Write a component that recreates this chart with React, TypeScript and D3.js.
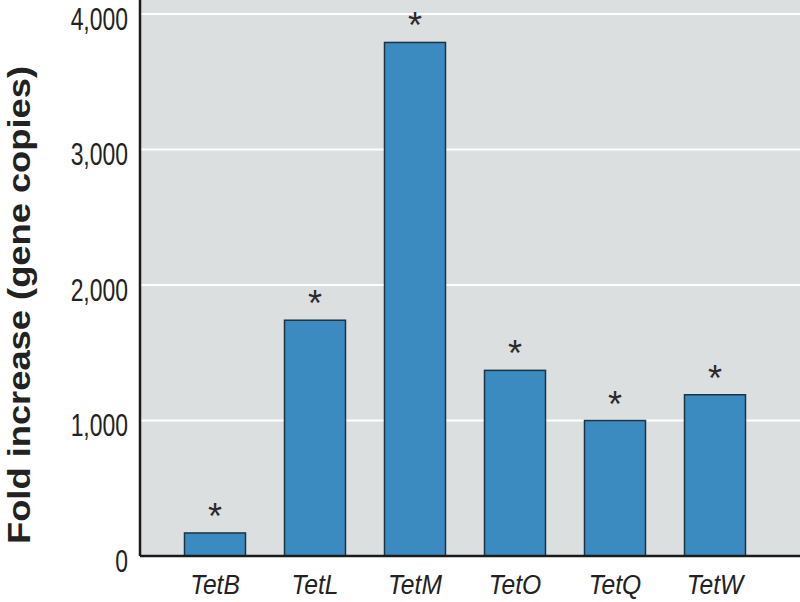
import React, { useEffect, useRef } from 'react';
import * as d3 from 'd3';

const genes = ['TetB', 'TetL', 'TetM', 'TetO', 'TetQ', 'TetW'];
const foldIncrease = [170, 1740, 3790, 1370, 1000, 1190];
const significant = [true, true, true, true, true, true];
const yTicks = [0, 1000, 2000, 3000, 4000];

const W = 800;
const H = 602;

export default function App() {
  const ref = useRef<SVGSVGElement>(null);

  useEffect(() => {
    const svg = d3.select(ref.current);
    svg.selectAll('*').remove();

    const left = 140, bottom = 556, right = 800;
    const font = '"Liberation Sans", Arial, sans-serif';

    const x = d3.scaleBand<string>()
      .domain(genes)
      .range([165, 765])
      .paddingInner(0.39)
      .paddingOuter(0.195);

    const y = d3.scaleLinear()
      .domain([0, 4000])
      .range([bottom, 14]);

    // plot background
    svg.append('rect')
      .attr('x', left).attr('y', 0)
      .attr('width', right - left).attr('height', bottom)
      .attr('fill', '#dcdfe0');

    // gridlines
    svg.append('g')
      .selectAll('line')
      .data(yTicks.filter(d => d > 0))
      .join('line')
      .attr('x1', left).attr('x2', right)
      .attr('y1', d => y(d)).attr('y2', d => y(d))
      .attr('stroke', '#fff')
      .attr('stroke-width', 2);

    // bars
    svg.append('g')
      .selectAll('rect')
      .data(genes)
      .join('rect')
      .attr('x', d => x(d)!)
      .attr('y', (d, i) => y(foldIncrease[i]))
      .attr('width', x.bandwidth())
      .attr('height', (d, i) => bottom - y(foldIncrease[i]))
      .attr('fill', '#3b8bc0')
      .attr('stroke', '#1c3344')
      .attr('stroke-width', 1.5);

    // asterisks
    svg.append('g')
      .selectAll('text')
      .data(genes.filter((d, i) => significant[i]))
      .join('text')
      .attr('x', d => x(d)! + x.bandwidth() / 2)
      .attr('y', d => y(foldIncrease[genes.indexOf(d)]) - 4)
      .attr('text-anchor', 'middle')
      .attr('font-family', font)
      .attr('font-size', 36)
      .attr('fill', '#2a2a2a')
      .text('*');

    // axes lines
    svg.append('line')
      .attr('x1', left).attr('x2', left)
      .attr('y1', 0).attr('y2', bottom)
      .attr('stroke', '#1a1a1a').attr('stroke-width', 2.5);
    svg.append('line')
      .attr('x1', left).attr('x2', right)
      .attr('y1', bottom).attr('y2', bottom)
      .attr('stroke', '#1a1a1a').attr('stroke-width', 2.5);

    // y tick labels (condensed)
    svg.append('g')
      .selectAll('text')
      .data(yTicks)
      .join('text')
      .attr('transform', d => `translate(128,${y(d) + 15.5}) scale(0.74,1)`)
      .attr('text-anchor', 'end')
      .attr('font-family', font)
      .attr('font-size', 31)
      .attr('fill', '#222')
      .text(d => d3.format(',')(d));

    // x labels
    svg.append('g')
      .selectAll('text')
      .data(genes)
      .join('text')
      .attr('transform', d => `translate(${x(d)! + x.bandwidth() / 2},594) scale(0.88,1)`)
      .attr('text-anchor', 'middle')
      .attr('font-family', font)
      .attr('font-style', 'italic')
      .attr('font-size', 28)
      .attr('fill', '#222')
      .text(d => d);

    // y title
    svg.append('text')
      .attr('transform', 'translate(30,305) rotate(-90)')
      .attr('text-anchor', 'middle')
      .attr('font-family', font)
      .attr('font-weight', 'bold')
      .attr('font-size', 32)
      .attr('textLength', 478)
      .attr('lengthAdjust', 'spacingAndGlyphs')
      .attr('fill', '#222')
      .text('Fold increase (gene copies)');
  }, []);

  return (
    <svg ref={ref} width={W} height={H}
      style={{ position: 'absolute', left: 0, top: 0, background: '#fff' }} />
  );
}
